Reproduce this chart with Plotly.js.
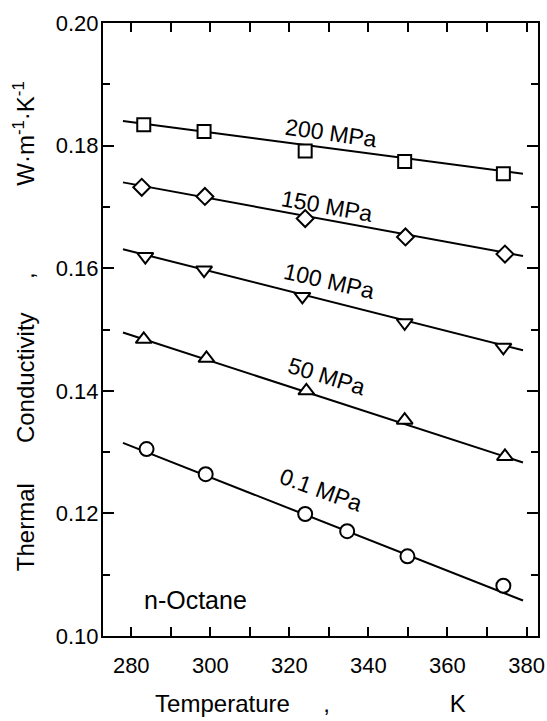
<!DOCTYPE html>
<html>
<head>
<meta charset="utf-8">
<script src="https://cdn.plot.ly/plotly-3.0.1.min.js"></script>
<style>html,body{margin:0;padding:0;background:#fff;}#chart{width:547px;height:721px;}</style>
</head>
<body>
<div id="chart"></div>
<script>
// Measured data (Temperature in K, thermal conductivity in W·m-1·K-1)
const T200 = [283.16, 298.42, 324.0, 349.17, 374.14];
const k200 = [0.1834, 0.1823, 0.1791, 0.1774, 0.1754];
const T150 = [282.65, 298.63, 324.0, 349.37, 374.54];
const k150 = [0.1732, 0.1717, 0.1681, 0.1651, 0.1623];
const T100 = [283.56, 298.42, 323.29, 349.17, 374.14];
const k100 = [0.1619, 0.1597, 0.1554, 0.1511, 0.1471];
const T50 = [283.16, 299.03, 324.30, 349.17, 374.54];
const k50 = [0.1484, 0.1453, 0.1400, 0.1352, 0.1293];
const T01 = [283.87, 298.83, 324.0, 334.62, 349.87, 374.14];
const k01 = [0.1305, 0.1264, 0.1199, 0.1171, 0.1130, 0.1082];

// Fitted lines (end points)
const lineT = [277.9, 379.1];
const fit200 = [0.1840, 0.1754];
const fit150 = [0.1740, 0.1620];
const fit100 = [0.1631, 0.1466];
const fit50 = [0.1495, 0.1283];
const fit01 = [0.1315, 0.1058];

// Labels
const labelText = ['200 MPa', '150 MPa', '100 MPa', '50 MPa', '0.1 MPa'];
const labelT = [330.5, 329.5, 330.0, 329.3, 328.1];
const labelK = [0.1821, 0.1702, 0.1579, 0.1424, 0.1238];
const labelAngle = [8, 10, 13, 17, 20];
const noteText = 'n-Octane';
const noteT = 296.3;
const noteK = 0.1058;

const xTicks = [280, 300, 320, 340, 360, 380];
const yTicks = [0.10, 0.12, 0.14, 0.16, 0.18, 0.20];
const yTickText = ['0.10', '0.12', '0.14', '0.16', '0.18', '0.20'];

const FONT = 'Liberation Sans, Arial, sans-serif';
const nb = n => '&nbsp;'.repeat(n);
const yTitle = 'Thermal' + nb(6) + 'Conductivity' + nb(5) + ',' + nb(13) + 'W·m<sup>-1</sup>·K<sup>-1</sup>';
const xTitle = 'Temperature' + nb(5) + ',' + nb(18) + 'K' + nb(3);

const series = [
  {T: T200, k: k200, fit: fit200, sym: 'square', size: 13, name: '200 MPa'},
  {T: T150, k: k150, fit: fit150, sym: 'diamond', size: 13, name: '150 MPa'},
  {T: T100, k: k100, fit: fit100, sym: 'triangle-down', size: 14, name: '100 MPa'},
  {T: T50, k: k50, fit: fit50, sym: 'triangle-up', size: 14, name: '50 MPa'},
  {T: T01, k: k01, fit: fit01, sym: 'circle', size: 14, name: '0.1 MPa'}
];

const traces = [];
series.forEach(s => {
  traces.push({x: lineT, y: s.fit, mode: 'lines', line: {color: '#000', width: 2}, showlegend: false, hoverinfo: 'skip'});
});
series.forEach(s => {
  traces.push({x: s.T, y: s.k, mode: 'markers', name: s.name, showlegend: false,
    marker: {symbol: s.sym, size: s.size, color: '#fff', line: {color: '#000', width: 2}}});
});

const annotations = labelText.map((t, i) => ({
  x: labelT[i], y: labelK[i], xref: 'x', yref: 'y', text: t, showarrow: false,
  textangle: labelAngle[i], font: {family: FONT, size: 23, color: '#000'}
}));
annotations.push({x: noteT, y: noteK, xref: 'x', yref: 'y', text: noteText, showarrow: false,
  font: {family: FONT, size: 25, color: '#000'}});
// y-axis title, placed as rotated text left of the tick labels
annotations.push({x: -0.18, y: 0.505, xref: 'paper', yref: 'paper', text: yTitle, showarrow: false,
  textangle: -90, xanchor: 'center', yanchor: 'middle', font: {family: FONT, size: 24, color: '#000'}});

const layout = {
  width: 547, height: 721,
  margin: {l: 103, r: 9, t: 23, b: 85},
  paper_bgcolor: '#fff', plot_bgcolor: '#fff',
  font: {family: FONT, size: 22, color: '#000'},
  showlegend: false,
  xaxis: {
    range: [272.85, 382.9], tickmode: 'array', tickvals: xTicks, ticktext: xTicks.map(String),
    ticks: 'inside', ticklen: 9, tickwidth: 2, tickcolor: '#000',
    minor: {dtick: 10, tick0: 270, ticks: 'inside', ticklen: 9, tickwidth: 2, tickcolor: '#000', showgrid: false},
    showline: true, linewidth: 2, linecolor: '#000', mirror: 'ticks',
    showgrid: false, zeroline: false, ticklabelstandoff: 9,
    tickfont: {family: FONT, size: 22},
    title: {text: xTitle, standoff: 18, font: {family: FONT, size: 24}}
  },
  yaxis: {
    range: [0.10, 0.20], tickmode: 'array', tickvals: yTicks, ticktext: yTickText,
    ticks: 'inside', ticklen: 11, tickwidth: 2, tickcolor: '#000',
    minor: {dtick: 0.01, tick0: 0.10, ticks: 'inside', ticklen: 7, tickwidth: 2, tickcolor: '#000', showgrid: false},
    showline: true, linewidth: 2, linecolor: '#000', mirror: 'ticks',
    showgrid: false, zeroline: false, ticklabelstandoff: -2,
    tickfont: {family: FONT, size: 22}
  },
  annotations: annotations
};

Plotly.newPlot('chart', traces, layout, {staticPlot: true, displayModeBar: false});
</script>
</body>
</html>
